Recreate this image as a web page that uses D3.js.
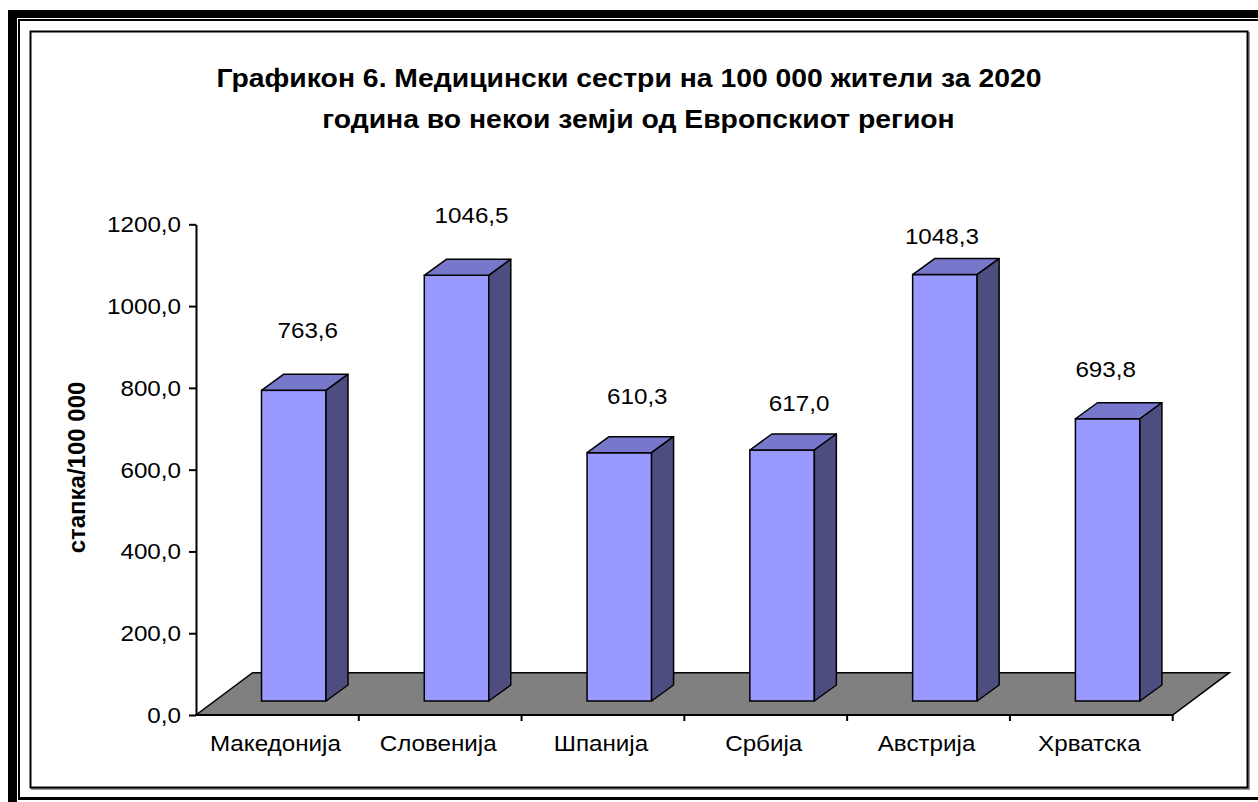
<!DOCTYPE html>
<html><head><meta charset="utf-8">
<script src="https://cdn.jsdelivr.net/npm/d3@7"></script>
<style>body{margin:0;background:#fff}svg{display:block}text{font-family:"Liberation Sans",Arial,sans-serif;fill:#000}</style>
</head><body><svg id="c" width="1258" height="802"></svg>
<script>
const categories = ["Македонија","Словенија","Шпанија","Србија","Австрија","Хрватска"];
const values = [763.6,1046.5,610.3,617.0,1048.3,693.8];
const yTicks = [0,200,400,600,800,1000,1200];
const titleLines = ["Графикон 6. Медицински сестри на 100 000 жители за 2020","година во некои земји од Европскиот регион"];
const yTitle = "стапка/100 000";

const fmt = v => d3.format(".1f")(v).replace(".", ",");
const svg = d3.select("#c");
const SX = 1.1; // horizontal stretch of the original text

function txt(parent, x, y, s, opts) {
  const t = parent.append("text")
    .attr("transform", `translate(${x},${y}) scale(${opts.sx || SX},1)`)
    .attr("text-anchor", opts.anchor || "middle")
    .attr("font-size", opts.size)
    .text(s);
  if (opts.bold) t.attr("font-weight", "bold");
  return t;
}

// frames
svg.append("rect").attr("x",8).attr("y",10).attr("width",9).attr("height",792).attr("fill","#000");
svg.append("rect").attr("x",8).attr("y",10).attr("width",1250).attr("height",8).attr("fill","#000");
svg.append("rect").attr("x",18).attr("y",19).attr("width",2).attr("height",780).attr("fill","#000");
svg.append("rect").attr("x",18).attr("y",19).attr("width",1240).attr("height",2).attr("fill","#000");
svg.append("rect").attr("x",18).attr("y",797).attr("width",1240).attr("height",3).attr("fill","#000");
svg.append("rect").attr("x",32).attr("y",33).attr("width",1217).attr("height",756).attr("fill","none").attr("stroke","#999").attr("stroke-width",2);
svg.append("rect").attr("x",30.5).attr("y",31.5).attr("width",1217).attr("height",756).attr("fill","#fff").attr("stroke","#000").attr("stroke-width",2);

// title
const tg = svg.append("g");
titleLines.forEach((s,i) => txt(tg, i===0 ? 629 : 638.5, 87 + i*41, s, {size:26, bold:true, sx:1.09}));

// scales
const x = d3.scaleBand().domain(categories).range([196, 1172.7]).padding(0);
const y = d3.scaleLinear().domain([0,1200]).range([715, 224.3]);
const baseY = 701;
const yBar = d3.scaleLinear().domain([0,1200]).range([baseY, baseY - 1200*0.4068]);
const fdx = 56.6, fdy = -42.3; // floor depth
const bdx = 22, bdy = -16;     // bar depth
const barOff = 65.5, barW = 64.5;

// floor
const x0 = x.range()[0], x1 = x.range()[1], y0 = y(0);
svg.append("path")
  .attr("d", `M${x0},${y0}L${x1},${y0}L${x1+fdx},${y0+fdy}L${x0+fdx},${y0+fdy}Z`)
  .attr("fill","#808080").attr("stroke","#000").attr("stroke-width",1.5);

// category axis
svg.append("line").attr("x1",x0).attr("x2",x1).attr("y1",y0).attr("y2",y0).attr("stroke","#000").attr("stroke-width",2);
svg.append("g").selectAll("line").data(categories).join("line")
  .attr("x1",d=>x(d)+x.bandwidth()).attr("x2",d=>x(d)+x.bandwidth())
  .attr("y1",y0).attr("y2",y0+6).attr("stroke","#000").attr("stroke-width",2);
const cg = svg.append("g");
categories.forEach(c => txt(cg, x(c)+x.bandwidth()/2-2, 751, c, {size:22}));

// y axis
const ax = svg.append("g").attr("transform",`translate(${x0},0)`)
  .call(d3.axisLeft(y).tickValues(yTicks).tickSize(7).tickSizeOuter(0).tickFormat(""));
ax.select(".domain").attr("stroke","#000").attr("stroke-width",2);
ax.selectAll(".tick line").attr("stroke","#000").attr("stroke-width",2);
const yg = svg.append("g");
yTicks.forEach(v => txt(yg, 181, y(v)+8, fmt(v), {size:22, anchor:"end"}));

// y title
svg.append("text").attr("transform","translate(85,467.5) rotate(-90)")
  .attr("text-anchor","middle").attr("font-size",24).attr("font-weight","bold").text(yTitle);

// bars
const labelNudge = [[0,0],[1,0],[4,3],[3,13],[-17,21],[-16,10]];
const bars = svg.append("g").selectAll("g").data(categories).join("g");
bars.each(function(c,i){
  const g = d3.select(this);
  const l = x(c)+barOff, r = l+barW, t = yBar(values[i]), b = baseY;
  g.append("rect").attr("x",l).attr("y",t).attr("width",barW).attr("height",b-t)
    .attr("fill","#9999FF").attr("stroke","#000").attr("stroke-width",1.5);
  g.append("path").attr("d",`M${l},${t}L${l+bdx},${t+bdy}L${r+bdx},${t+bdy}L${r},${t}Z`)
    .attr("fill","#7777CC").attr("stroke","#000").attr("stroke-width",1.5).attr("stroke-linejoin","round");
  g.append("path").attr("d",`M${r},${t}L${r+bdx},${t+bdy}L${r+bdx},${b+bdy}L${r},${b}Z`)
    .attr("fill","#4D4D80").attr("stroke","#000").attr("stroke-width",1.5).attr("stroke-linejoin","round");
  const [ndx, ndy] = labelNudge[i];
  txt(g, (l+r)/2+14+ndx, t+bdy-36+ndy, fmt(values[i]), {size:22});
});
</script></body></html>
